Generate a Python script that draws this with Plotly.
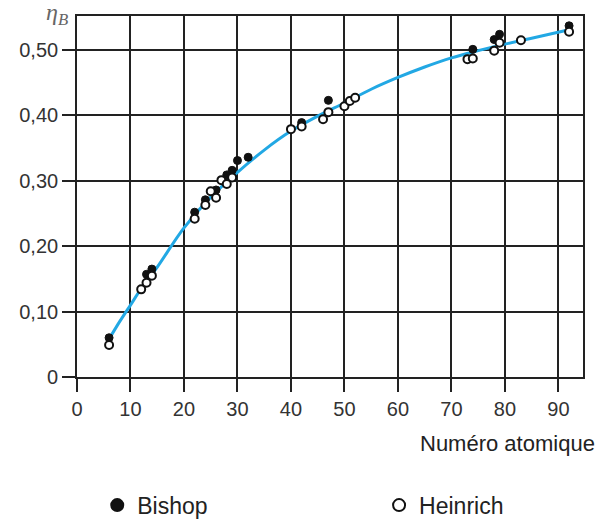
import plotly.graph_objects as go

# Fitted curve
curve_z = [6, 8, 10, 12, 15, 20, 25, 30, 35, 40, 45, 50, 55, 60, 65, 70, 75, 80, 85, 92]
curve_eta = [0.058, 0.085, 0.110, 0.135, 0.168, 0.228, 0.275, 0.313, 0.347, 0.376,
             0.399, 0.419, 0.440, 0.458, 0.474, 0.488, 0.499, 0.509, 0.518, 0.531]

# Bishop (filled)
bishop_z = [6, 13, 14, 22, 24, 26, 28, 29, 30, 32, 42, 47, 74, 78, 79, 92]
bishop_eta = [0.060, 0.157, 0.165, 0.252, 0.271, 0.286, 0.309, 0.316, 0.331, 0.336,
              0.389, 0.423, 0.501, 0.516, 0.524, 0.537]

# Heinrich (open)
heinrich_z = [6, 12, 13, 14, 22, 24, 25, 26, 27, 28, 29, 40, 42, 46, 47, 50, 51, 52,
              73, 74, 78, 79, 83, 92]
heinrich_eta = [0.049, 0.134, 0.144, 0.155, 0.242, 0.263, 0.284, 0.274, 0.301, 0.295,
                0.305, 0.379, 0.383, 0.394, 0.405, 0.414, 0.422, 0.427,
                0.486, 0.487, 0.499, 0.511, 0.515, 0.528]

x_ticks = [0, 10, 20, 30, 40, 50, 60, 70, 80, 90]
y_ticks = [0, 0.1, 0.2, 0.3, 0.4, 0.5]
y_ticktext = ["0", "0,10", "0,20", "0,30", "0,40", "0,50"]

font_fam = "Liberation Sans, Arial, Helvetica, sans-serif"

fig = go.Figure()
fig.add_trace(go.Scatter(x=curve_z, y=curve_eta, mode="lines", line=dict(color="#22A8E4", width=3, shape="spline"),
                         showlegend=False, hoverinfo="skip"))
fig.add_trace(go.Scatter(x=bishop_z, y=bishop_eta, mode="markers", name="Bishop", legend="legend",
                         marker=dict(symbol="circle", size=8, color="#111111", line=dict(color="#111111", width=1))))
fig.add_trace(go.Scatter(x=heinrich_z, y=heinrich_eta, mode="markers", name="Heinrich", legend="legend2",
                         marker=dict(symbol="circle", size=8, color="white", line=dict(color="#111111", width=2))))

axis_common = dict(showline=True, mirror=True, linecolor="#222222", linewidth=1.6,
                   showgrid=True, gridcolor="#222222", gridwidth=1.6, zeroline=False,
                   ticks="outside", tickcolor="#222222", tickwidth=1.6, ticklen=13,
                   tickfont=dict(family=font_fam, size=20, color="#333333"))

fig.update_xaxes(range=[0, 94.6], tickvals=x_ticks, automargin=False, **axis_common)
fig.update_yaxes(range=[0, 0.552], tickvals=y_ticks, ticktext=y_ticktext, automargin=False, **axis_common)

fig.add_annotation(x=-0.04, y=1.005, xref="paper", yref="paper", xanchor="center", yanchor="middle",
                   text="<i>η<sub>B</sub></i>", showarrow=False,
                   font=dict(family="Liberation Serif, DejaVu Serif, serif", size=24, color="#666666"))
fig.add_annotation(x=1.028, y=-0.183, xref="paper", yref="paper", xanchor="right", yanchor="middle",
                   text="Numéro atomique", showarrow=False,
                   font=dict(family=font_fam, size=22, color="#222222"))

leg_common = dict(orientation="h", yanchor="middle", itemsizing="constant",
                  font=dict(family=font_fam, size=23, color="#222222"), bgcolor="rgba(0,0,0,0)")

fig.update_layout(
    width=598, height=521,
    margin=dict(l=77, r=15, t=16, b=144, autoexpand=False),
    paper_bgcolor="white", plot_bgcolor="white",
    showlegend=True,
    legend=dict(x=0.04, y=-0.355, xanchor="left", **leg_common),
    legend2=dict(x=0.597, y=-0.355, xanchor="left", **leg_common),
)

fig.write_html("out.html", config={"displayModeBar": False},
               post_script="document.body.style.margin='0';document.body.style.overflow='hidden';")
